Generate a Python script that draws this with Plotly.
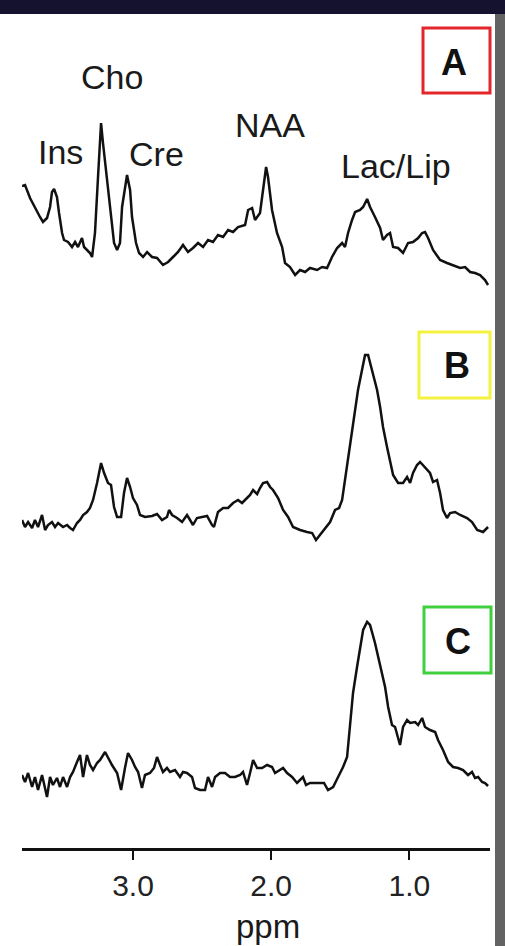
import plotly.graph_objects as go

# ---------------- data (ppm, intensity in arbitrary units) ----------------
ppm_a = [3.803, 3.781, 3.745, 3.709, 3.673, 3.651, 3.622, 3.600, 3.586, 3.571, 3.550, 3.535, 3.513, 3.499,
         3.470, 3.441, 3.419, 3.398, 3.369, 3.354, 3.333, 3.311, 3.296, 3.275, 3.253, 3.231, 3.217, 3.188,
         3.159, 3.137, 3.115, 3.094, 3.079, 3.043, 3.021, 3.007, 2.978, 2.956, 2.927, 2.898, 2.862, 2.826,
         2.783, 2.746, 2.710, 2.674, 2.638, 2.602, 2.566, 2.529, 2.493, 2.457, 2.421, 2.385, 2.348, 2.312,
         2.276, 2.240, 2.189, 2.167, 2.138, 2.117, 2.081, 2.059, 2.037, 2.023, 1.994, 1.958, 1.921, 1.900,
         1.864, 1.827, 1.791, 1.755, 1.719, 1.668, 1.632, 1.596, 1.560, 1.523, 1.487, 1.466, 1.444, 1.415,
         1.393, 1.357, 1.335, 1.306, 1.285, 1.249, 1.212, 1.191, 1.162, 1.140, 1.118, 1.082, 1.046, 1.010,
         0.974, 0.937, 0.908, 0.887, 0.865, 0.829, 0.778, 0.728, 0.684, 0.633, 0.597, 0.561, 0.525, 0.489,
         0.453, 0.431]
int_a = [104, 105, 92, 82, 73, 68, 72, 83, 98, 101, 93, 77, 57, 50,
         48, 43, 48, 43, 52, 43, 40, 37, 33, 57, 113, 167, 147, 113,
         73, 47, 40, 47, 83, 115, 100, 73, 47, 37, 33, 38, 33, 32,
         25, 28, 33, 38, 45, 38, 42, 47, 43, 50, 48, 55, 53, 60,
         58, 63, 65, 80, 82, 70, 77, 103, 123, 113, 80, 57, 43, 27,
         23, 15, 20, 18, 22, 20, 23, 22, 33, 42, 47, 43, 57, 70,
         78, 80, 83, 91, 83, 73, 62, 50, 55, 57, 43, 42, 37, 47,
         48, 52, 57, 58, 52, 40, 30, 27, 25, 22, 23, 18, 17, 15,
         10, 5]

ppm_b = [3.803, 3.781, 3.759, 3.730, 3.709, 3.687, 3.658, 3.636, 3.615, 3.586, 3.564, 3.542, 3.506, 3.477,
         3.455, 3.434, 3.405, 3.383, 3.361, 3.333, 3.311, 3.289, 3.260, 3.231, 3.209, 3.181, 3.159, 3.137,
         3.115, 3.086, 3.065, 3.043, 3.021, 3.000, 2.971, 2.949, 2.913, 2.862, 2.826, 2.790, 2.754, 2.739,
         2.717, 2.681, 2.645, 2.609, 2.587, 2.566, 2.537, 2.500, 2.464, 2.428, 2.414, 2.385, 2.348, 2.312,
         2.276, 2.240, 2.211, 2.175, 2.153, 2.131, 2.102, 2.081, 2.059, 2.030, 2.008, 1.987, 1.950, 1.914,
         1.878, 1.842, 1.791, 1.741, 1.704, 1.676, 1.647, 1.610, 1.574, 1.538, 1.509, 1.487, 1.466, 1.444,
         1.415, 1.393, 1.372, 1.343, 1.321, 1.299, 1.270, 1.234, 1.212, 1.191, 1.162, 1.140, 1.118, 1.082,
         1.046, 1.017, 0.995, 0.974, 0.945, 0.923, 0.887, 0.851, 0.829, 0.800, 0.778, 0.757, 0.728, 0.706,
         0.670, 0.633, 0.583, 0.547, 0.510, 0.467, 0.431]
int_b = [25, 18, 23, 17, 25, 18, 30, 15, 20, 23, 18, 22, 18, 20,
         17, 15, 22, 25, 30, 33, 37, 45, 62, 82, 72, 62, 60, 38,
         28, 28, 52, 67, 58, 47, 40, 30, 28, 29, 31, 25, 28, 35,
         30, 27, 23, 30, 25, 20, 27, 28, 29, 20, 18, 33, 37, 37,
         42, 45, 42, 47, 50, 55, 51, 57, 62, 63, 58, 55, 47, 35,
         28, 18, 15, 13, 12, 5, 10, 17, 23, 35, 37, 45, 65, 88,
         112, 135, 155, 175, 190, 190, 175, 155, 138, 118, 98, 82, 70, 62,
         62, 68, 62, 72, 80, 83, 78, 72, 63, 65, 52, 35, 27, 32,
         33, 30, 27, 23, 15, 13, 18]

ppm_c = [3.803, 3.781, 3.759, 3.730, 3.709, 3.687, 3.658, 3.636, 3.622, 3.600, 3.579, 3.550, 3.528, 3.506,
         3.477, 3.455, 3.434, 3.405, 3.383, 3.361, 3.333, 3.311, 3.289, 3.260, 3.238, 3.202, 3.181, 3.152,
         3.115, 3.086, 3.058, 3.036, 3.007, 2.985, 2.963, 2.935, 2.913, 2.877, 2.848, 2.826, 2.804, 2.783,
         2.754, 2.732, 2.696, 2.660, 2.638, 2.609, 2.573, 2.551, 2.515, 2.479, 2.457, 2.428, 2.406, 2.370,
         2.334, 2.298, 2.262, 2.225, 2.204, 2.175, 2.153, 2.131, 2.102, 2.066, 2.030, 1.994, 1.972, 1.936,
         1.914, 1.885, 1.849, 1.813, 1.791, 1.770, 1.748, 1.719, 1.683, 1.647, 1.618, 1.589, 1.552, 1.516,
         1.480, 1.451, 1.429, 1.408, 1.379, 1.357, 1.335, 1.306, 1.285, 1.249, 1.212, 1.176, 1.154, 1.126,
         1.104, 1.068, 1.046, 1.017, 0.995, 0.959, 0.937, 0.908, 0.887, 0.851, 0.814, 0.793, 0.757, 0.720,
         0.684, 0.648, 0.612, 0.576, 0.547, 0.525, 0.503, 0.474, 0.453, 0.431]
int_c = [25, 18, 27, 13, 23, 10, 25, 13, 3, 23, 15, 22, 13, 23,
         13, 23, 28, 38, 45, 23, 45, 35, 30, 37, 40, 48, 42, 35,
         27, 10, 32, 47, 40, 33, 28, 12, 25, 27, 32, 43, 35, 28,
         32, 28, 30, 23, 28, 27, 23, 12, 10, 10, 23, 13, 23, 27,
         27, 23, 23, 25, 28, 15, 27, 40, 32, 32, 35, 33, 27, 30,
         32, 27, 23, 17, 20, 23, 15, 17, 17, 17, 17, 10, 13, 23,
         33, 43, 73, 107, 133, 150, 170, 178, 175, 157, 133, 113, 93, 75,
         73, 55, 73, 80, 77, 78, 75, 82, 73, 70, 68, 60, 50, 38,
         33, 32, 30, 25, 28, 22, 23, 18, 17, 14]

tick_vals = [3.0, 2.0, 1.0]
tick_text = ["3.0", "2.0", "1.0"]
peak_labels = ["Ins", "Cho", "Cre", "NAA", "Lac/Lip"]
panel_labels = ["A", "B", "C"]
panel_colors = ["#e3262b", "#f3f240", "#3fcf3f"]

# ---------------- layout helpers (pixel -> paper) ----------------
W, H = 505, 946
def px(x):
    return x / W
def py(y):
    return 1 - y / H

FONT = "Liberation Sans, Arial, Helvetica, sans-serif"

fig = go.Figure()
line_style = dict(color="#111111", width=2.5)
fig.add_trace(go.Scatter(x=ppm_a, y=int_a, mode="lines", line=line_style, xaxis="x", yaxis="y", showlegend=False))
fig.add_trace(go.Scatter(x=ppm_b, y=int_b, mode="lines", line=line_style, xaxis="x", yaxis="y2", showlegend=False))
fig.add_trace(go.Scatter(x=ppm_c, y=int_c, mode="lines", line=line_style, xaxis="x", yaxis="y3", showlegend=False))

hidden_y = dict(visible=False, showgrid=False, zeroline=False, fixedrange=True)

fig.update_layout(
    width=W, height=H,
    margin=dict(l=0, r=0, t=0, b=0),
    paper_bgcolor="white", plot_bgcolor="rgba(0,0,0,0)",
    font=dict(family=FONT, color="#111111"),
    xaxis=dict(domain=[px(22), px(490)], range=[3.803, 0.417], anchor="free", position=py(849),
               showline=True, linewidth=3, linecolor="#111111", showgrid=False, zeroline=False,
               ticks="outside", ticklen=9, tickwidth=2, tickcolor="#111111",
               tickvals=tick_vals, ticktext=tick_text, tickfont=dict(size=30, family=FONT, color="#222222")),
    yaxis=dict(domain=[py(290), py(110)], range=[0, 180], anchor="x", **hidden_y),
    yaxis2=dict(domain=[py(545), py(340)], range=[0, 205], anchor="x", **hidden_y),
    yaxis3=dict(domain=[py(800), py(610)], range=[0, 190], anchor="x", **hidden_y),
)

# frame decorations: dark top band and grey right edge
fig.add_shape(type="rect", xref="paper", yref="paper", x0=0, x1=1, y0=py(14), y1=1,
              fillcolor="#14122e", line=dict(width=0), layer="above")
fig.add_shape(type="rect", xref="paper", yref="paper", x0=px(495), x1=1, y0=0, y1=py(14),
              fillcolor="#636363", line=dict(width=0), layer="above")

# panel boxes
boxes = [(423, 490, 28, 93), (419, 490, 332, 398), (424, 491, 607, 673)]
letter_pos = [(454, 63), (457, 366), (458, 641)]
for lab, col, (x0, x1, y0, y1), (lx, ly) in zip(panel_labels, panel_colors, boxes, letter_pos):
    fig.add_shape(type="rect", xref="paper", yref="paper", x0=px(x0), x1=px(x1), y0=py(y1), y1=py(y0),
                  line=dict(color=col, width=3), fillcolor="rgba(0,0,0,0)")
    fig.add_annotation(text="<b>%s</b>" % lab, xref="paper", yref="paper", x=px(lx), y=py(ly),
                       xanchor="center", yanchor="middle", showarrow=False,
                       font=dict(size=36, family=FONT, color="#111111"))

# peak labels
label_pos = [(60, 152), (112, 77), (156, 154), (270, 125), (396, 166)]
for t, (lx, ly) in zip(peak_labels, label_pos):
    fig.add_annotation(text=t, xref="paper", yref="paper", x=px(lx), y=py(ly),
                       xanchor="center", yanchor="middle", showarrow=False,
                       font=dict(size=34, family=FONT, color="#1a1a1a"))

# axis title
fig.add_annotation(text="ppm", xref="paper", yref="paper", x=px(268), y=py(926),
                   xanchor="center", yanchor="middle", showarrow=False,
                   font=dict(size=33, family=FONT, color="#1a1a1a"))

fig.write_html("out.html", config={"displayModeBar": False, "staticPlot": True},
               post_script="document.body.style.margin='0';document.body.style.padding='0';"
                           "document.body.style.overflow='hidden';")
